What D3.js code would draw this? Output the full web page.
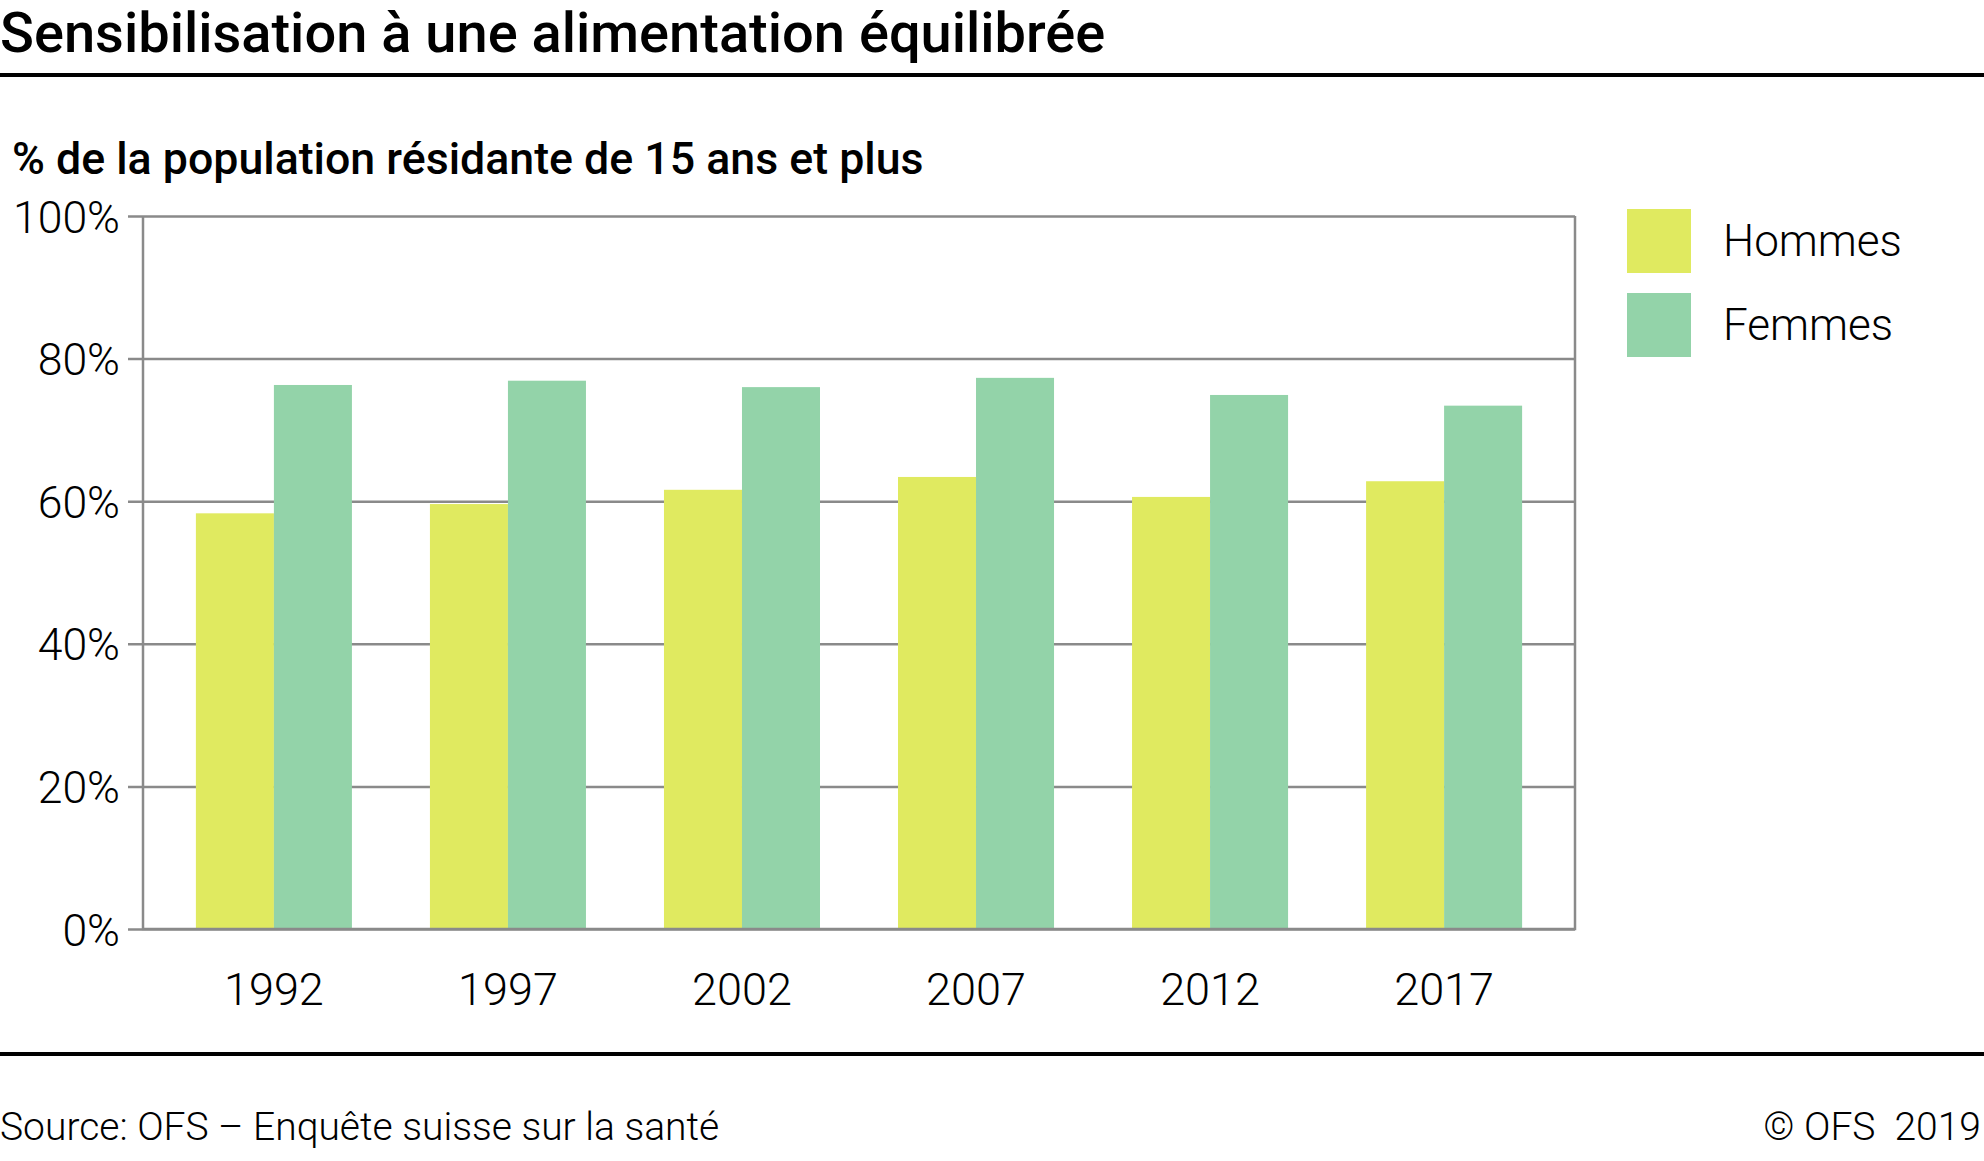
<!DOCTYPE html>
<html>
<head>
<meta charset="utf-8">
<script src="https://cdn.jsdelivr.net/npm/d3@7"></script>
<style>
  body { margin: 0; background: #fff; }
  text { font-family: Roboto, "Noto Sans", sans-serif; }
</style>
</head>
<body>
<svg id="chart"></svg>
<script>
let years = ["1992", "1997", "2002", "2007", "2012", "2017"];
let hommes = [58.3, 59.6, 61.6, 63.4, 60.6, 62.8];
let femmes = [76.3, 76.9, 76.0, 77.3, 74.9, 73.4];
let seriesNames = ["Hommes", "Femmes"];
let colors = ["#e0ea60", "#93d3a9"];
let yTicks = [0, 20, 40, 60, 80, 100];

let w = 1984;
let h = 1161;
let plotLeft = 143, plotRight = 1575, plotTop = 216, plotBottom = 929;
let gridColor = "#8a8a8a";

let svg = d3.select("#chart").attr("width", w).attr("height", h);

// title + rules
svg.append("text")
   .attr("x", 0).attr("y", 52)
   .attr("font-size", "56px").attr("font-weight", 500)
   .text("Sensibilisation à une alimentation équilibrée");

svg.append("line").attr("x1", 0).attr("x2", w).attr("y1", 75).attr("y2", 75)
   .attr("stroke", "#000").attr("stroke-width", 4);

svg.append("text")
   .attr("x", 12).attr("y", 174)
   .attr("font-size", "44.7px").attr("font-weight", 500)
   .text("% de la population résidante de 15 ans et plus");

let scalex = d3.scaleBand()
  .domain(years)
  .range([plotLeft, plotRight])
  .paddingInner(1/3)
  .paddingOuter(0.226);

let inner = d3.scaleBand()
  .domain(seriesNames)
  .range([0, scalex.bandwidth()]);

let scaley = d3.scaleLinear().domain([0, 100]).range([plotBottom, plotTop]);

// gridlines + y labels
let yAxis = svg.append("g")
  .attr("transform", `translate(${plotRight},0)`)
  .call(d3.axisLeft(scaley)
    .tickValues(yTicks)
    .tickSize(plotRight - 128)
    .tickPadding(8)
    .tickFormat(d => d + "%"));
yAxis.select(".domain").remove();
yAxis.selectAll("line").attr("stroke", gridColor).attr("stroke-width", 2.5);
yAxis.selectAll("text")
  .attr("font-size", "44.5px").attr("font-weight", 300)
  .attr("fill", "#000").attr("dy", "0.36em");

// bars
let data = years.map((y, i) => ({ year: y, values: [hommes[i], femmes[i]] }));

svg.append("g").selectAll("g")
  .data(data)
  .enter()
  .append("g")
  .attr("transform", d => `translate(${scalex(d.year)},0)`)
  .selectAll("rect")
  .data(d => d.values.map((v, j) => ({ name: seriesNames[j], value: v, color: colors[j] })))
  .enter()
  .append("rect")
  .attr("x", d => inner(d.name))
  .attr("width", inner.bandwidth())
  .attr("y", d => scaley(d.value))
  .attr("height", d => plotBottom - scaley(d.value))
  .attr("fill", d => d.color);

// frame: left axis, right edge, bottom
svg.append("path")
  .attr("d", `M${plotLeft},${plotTop} V${plotBottom} H${plotRight} V${plotTop}`)
  .attr("fill", "none").attr("stroke", gridColor).attr("stroke-width", 2.5);

// x labels
let xAxis = svg.append("g")
  .attr("transform", `translate(0,${plotBottom})`)
  .call(d3.axisBottom(scalex).tickSize(0).tickPadding(0));
xAxis.select(".domain").remove();
xAxis.selectAll("text")
  .attr("font-size", "45px").attr("font-weight", 300)
  .attr("fill", "#000").attr("y", 76).attr("dy", 0);

// legend
let legend = svg.append("g");
legend.selectAll("rect")
  .data(seriesNames)
  .enter()
  .append("rect")
  .attr("x", 1627)
  .attr("y", (d, i) => 209 + i * 84)
  .attr("width", 64).attr("height", 64)
  .attr("fill", (d, i) => colors[i]);
legend.selectAll("text")
  .data(seriesNames)
  .enter()
  .append("text")
  .attr("x", 1723)
  .attr("y", (d, i) => 256 + i * 84)
  .attr("font-size", "44px").attr("font-weight", 300)
  .text(d => d);

// footer
svg.append("line").attr("x1", 0).attr("x2", w).attr("y1", 1054).attr("y2", 1054)
   .attr("stroke", "#000").attr("stroke-width", 4);
svg.append("text")
   .attr("x", 0).attr("y", 1140)
   .attr("font-size", "39px").attr("font-weight", 300)
   .text("Source: OFS – Enquête suisse sur la santé");
svg.append("text")
   .attr("x", 1981).attr("y", 1140)
   .attr("text-anchor", "end")
   .attr("font-size", "39px").attr("font-weight", 300)
   .attr("xml:space", "preserve")
   .text("© OFS  2019");
</script>
</body>
</html>
